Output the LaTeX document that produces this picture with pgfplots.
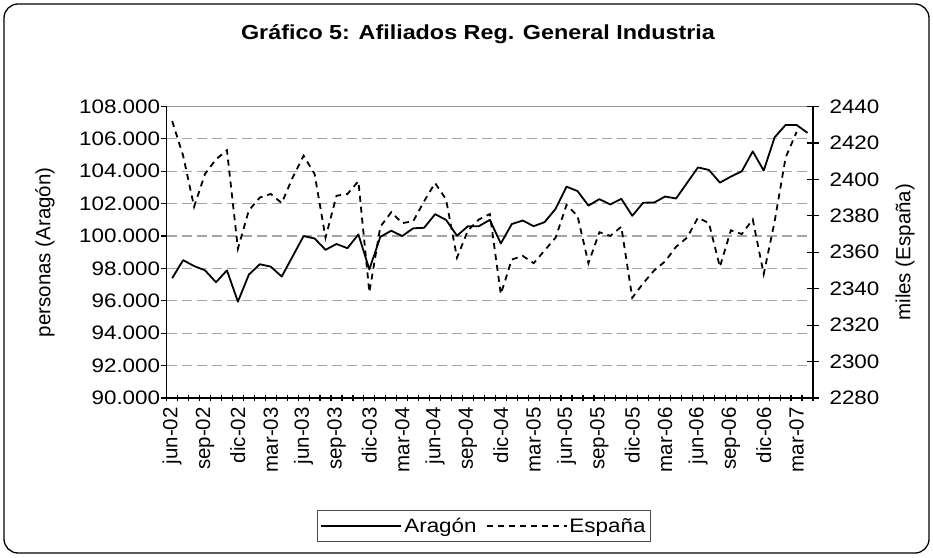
\documentclass[border=0pt]{standalone}
\usepackage{pgfplots}
\pgfplotsset{compat=1.18}
\usepackage{fontspec}
\setmainfont{Liberation Sans}[FakeStretch=1.15]
\newfontfamily\rotfont{Liberation Sans}
\newcommand\fs{\fontsize{19.5}{23}\selectfont}
\newcommand\rfs{\fontsize{20.5}{24}\selectfont}
\definecolor{gridgray}{RGB}{165,165,165}
\definecolor{topgray}{RGB}{150,150,150}
\begin{document}
\begin{tikzpicture}[x=1pt,y=1pt]
\useasboundingbox (0,0) rectangle (933,557);
\draw[line width=1.3pt, rounded corners=14pt] (4,4) rectangle (929,553);
\node[font=\fontsize{20.3}{24}\selectfont\bfseries] at (478,523) {Gráfico 5: Afiliados Reg. General Industria};
\begin{axis}[
  at={(166.7pt,159pt)}, anchor=south west,
  scale only axis, width=646.3pt, height=291.5pt,
  xmin=-0.5, xmax=58.5, ymin=90000, ymax=108000,
  scaled y ticks=false,
  axis x line*=bottom, axis y line*=left,
  axis line style={-, line width=1.5pt, black},
  tick pos=left,
  xtick={-0.5,0.5,...,58.5}, xticklabels={},
  xtick align=center, ytick align=outside,
  major tick length=6pt,
  tick style={black, line width=1.2pt},
  extra x ticks={0,3,...,57},
  extra x tick labels={jun-02,sep-02,dic-02,mar-03,jun-03,sep-03,dic-03,mar-04,jun-04,sep-04,dic-04,mar-05,jun-05,sep-05,dic-05,mar-06,jun-06,sep-06,dic-06,mar-07},
  extra x tick style={major tick length=0pt, tick style={draw=none}},
  xticklabel style={font=\rotfont\rfs, rotate=90, anchor=east, inner xsep=9pt},
  ytick={90000,92000,...,108000},
  yticklabels={90.000,92.000,94.000,96.000,98.000,100.000,102.000,104.000,106.000,108.000},
  yticklabel style={font=\fs, xshift=3pt},
  ymajorgrids,
  major grid style={gridgray, line width=1.2pt, dash pattern=on 10pt off 5pt},
  ylabel={\rotfont personas (Aragón)},
  ylabel style={font=\rfs, at={(axis description cs:-0.1883,0.5)}, anchor=center},
]
\addplot[black, line width=1.8pt, line join=round] table[x=x,y=y] {
x y
0 97400
1 98510
2 98150
3 97880
4 97150
5 97880
6 95950
7 97620
8 98260
9 98110
10 97500
11 98750
12 100000
13 99850
14 99150
15 99510
16 99250
17 100100
18 97940
19 99950
20 100330
21 100000
22 100480
23 100510
24 101350
25 101000
26 100020
27 100610
28 100610
29 101000
30 99540
31 100740
32 100960
33 100610
34 100860
35 101680
36 103050
37 102780
38 101880
39 102280
40 101950
41 102300
42 101250
43 102060
44 102070
45 102440
46 102320
47 103280
48 104240
49 104080
50 103300
51 103670
52 104000
53 105230
54 104040
55 106100
56 106860
57 106860
58 106370
};
\draw[topgray, line width=1.7pt] (rel axis cs:0,1) -- (rel axis cs:1,1);
\end{axis}
\begin{axis}[
  at={(166.7pt,159pt)}, anchor=south west,
  scale only axis, width=646.3pt, height=291.5pt,
  xmin=-0.5, xmax=58.5, ymin=2280, ymax=2440,
  scaled y ticks=false,
  axis x line=none, axis y line*=right,
  axis line style={-, line width=1.5pt, black},
  ytick pos=right, yticklabel pos=right,
  ytick={2280,2300,...,2440},
  yticklabels={2280,2300,2320,2340,2360,2380,2400,2420,2440},
  ytick align=center, major tick length=12pt,
  tick style={black, line width=1.2pt},
  yticklabel style={font=\fs, xshift=7pt},
  ylabel={\rotfont miles (España)},
  ylabel style={font=\rfs, at={(axis description cs:1.1424,0.5)}, anchor=center},
  legend style={at={(axis description cs:0.491,-0.439)}, anchor=center,
    draw=black!70, line width=0.9pt, font=\fs, legend columns=2,
    /tikz/every even column/.append style={column sep=7pt}, inner xsep=3pt, inner ysep=6pt},
  legend image code/.code={\draw[#1] (0pt,0pt) -- (80pt,0pt);},
]
\addlegendimage{black, line width=1.8pt}
\addlegendentry{Aragón}
\addplot[black, line width=1.8pt, dash pattern=on 6pt off 5pt] table[x=x,y=y] {
x y
0 2432
1 2413
2 2385
3 2403
4 2411
5 2416
6 2362
7 2383
8 2390
9 2392
10 2387
11 2401
12 2413
13 2403
14 2368
15 2391
16 2392
17 2399
18 2338
19 2374
20 2382
21 2376
22 2377
23 2388
24 2398
25 2389
26 2357
27 2372
28 2378
29 2381
30 2337
31 2356
32 2358
33 2354
34 2361
35 2368
36 2386
37 2380
38 2354
39 2371
40 2369
41 2374
42 2335
43 2343
44 2350
45 2355
46 2363
47 2368
48 2379
49 2376
50 2352
51 2372
52 2370
53 2378
54 2348
55 2377
56 2412
57 2426
};
\addlegendentry{España}
\end{axis}
\end{tikzpicture}
\end{document}
